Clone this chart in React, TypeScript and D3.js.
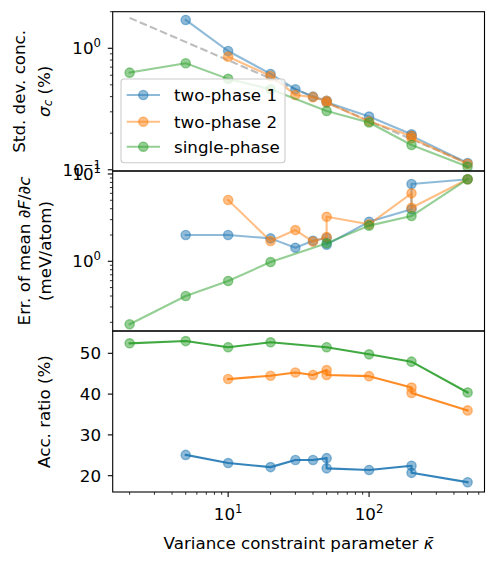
import React from 'react';
import * as d3 from 'd3';

// ---------- data ----------
const kappaTwoPhase1 = [5, 10, 20, 30, 40, 50, 50, 100, 200, 200, 500];
const kappaTwoPhase2 = [10, 20, 30, 40, 50, 50, 100, 200, 200, 500];
const kappaSingle = [2, 5, 10, 20, 50, 100, 200, 500];

const stdTwoPhase1 = [1.71, 0.95, 0.615, 0.46, 0.4, 0.37, 0.36, 0.274, 0.196, 0.19, 0.1135];
const stdTwoPhase2 = [0.853, 0.592, 0.413, 0.396, 0.369, 0.358, 0.25, 0.19, 0.182, 0.112];
const stdSingle = [0.63, 0.753, 0.56, 0.46, 0.305, 0.245, 0.16, 0.106];

const refKappa = [2, 500];
const refStd = [1.78, 0.113];

const errTwoPhase1 = [2.0, 2.0, 1.83, 1.43, 1.72, 1.85, 1.55, 2.84, 3.94, 7.68, 8.7];
const errTwoPhase2 = [5.04, 1.71, 2.28, 1.68, 1.9, 3.24, 2.65, 6.0, 4.11, 8.7];
const errSingle = [0.19, 0.4, 0.595, 0.98, 1.61, 2.56, 3.3, 8.7];

const accTwoPhase1 = [25.1, 23.1, 22.1, 23.85, 23.85, 24.3, 21.8, 21.4, 22.45, 20.7, 18.4];
const accTwoPhase2 = [43.7, 44.5, 45.3, 44.7, 45.9, 44.7, 44.4, 41.6, 40.3, 36.0];
const accSingle = [52.45, 53.0, 51.5, 52.7, 51.5, 49.75, 47.95, 40.4];

const seriesNames = ['two-phase 1', 'two-phase 2', 'single-phase'];
const seriesColors = ['#1f77b4', '#ff7f0e', '#2ca02c'];

const accTicks = [20, 30, 40, 50];

// ---------- layout ----------
const W = 495;
const H = 564;
const L = 112.7;
const R = 484.5;
const P1 = { top: 11.7, bottom: 171 };
const P2 = { top: 171, bottom: 331 };
const P3 = { top: 331, bottom: 492 };
const FONT = 'DejaVu Sans';
const FS = 16.7;
const SUP = 11.7;
const MR = 4.6;

const x = d3.scaleLog().domain([1.517, 659]).range([L, R]);
const yStd = d3.scaleLog().domain([0.0977, 2.0]).range([P1.bottom, P1.top]);
const yErr = d3.scaleLog().domain([0.159, 10.82]).range([P2.bottom, P2.top]);
const yAcc = d3.scaleLinear().domain([16.0, 55.47]).range([P3.bottom, P3.top]);

type Pt = [number, number];
const zip = (a: number[], b: number[]): Pt[] => a.map((v, i) => [v, b[i]]);

function Series({ pts, y, color, lineAlpha }: { pts: Pt[]; y: any; color: string; lineAlpha: number }) {
  const line = d3.line<Pt>().x((d) => x(d[0])).y((d) => y(d[1]));
  return (
    <g>
      <path d={line(pts) || ''} fill="none" stroke={color} strokeOpacity={lineAlpha} strokeWidth={2.1} strokeLinejoin="round" strokeLinecap="square" />
      {pts.map((d, i) => (
        <circle key={i} cx={x(d[0])} cy={y(d[1])} r={MR} fill={color} fillOpacity={0.5} stroke={color} strokeOpacity={0.5} strokeWidth={1.4} />
      ))}
    </g>
  );
}

function logTicks(domain: number[]) {
  const major: number[] = [];
  const minor: number[] = [];
  for (let e = -3; e <= 4; e++) {
    for (let m = 1; m <= 9; m++) {
      const v = m * Math.pow(10, e);
      if (v >= domain[0] * 0.999 && v <= domain[1] * 1.001) {
        if (m === 1) major.push(v);
        else minor.push(v);
      }
    }
  }
  return { major, minor };
}

function Pow10({ x: tx, y: ty, exp, anchor }: { x: number; y: number; exp: string; anchor: string }) {
  return (
    <text x={tx} y={ty} textAnchor={anchor} fontFamily={FONT} fontSize={FS} fill="#000">
      10<tspan fontSize={SUP} dy={-7}>{exp}</tspan>
    </text>
  );
}

function YLogAxis({ y }: { y: any }) {
  const { major, minor } = logTicks(y.domain());
  return (
    <g>
      {minor.map((v, i) => (
        <line key={'m' + i} x1={L} x2={L - 2.8} y1={y(v)} y2={y(v)} stroke="#000" strokeWidth={0.8} />
      ))}
      {major.map((v, i) => (
        <g key={'M' + i}>
          <line x1={L} x2={L - 4.9} y1={y(v)} y2={y(v)} stroke="#000" strokeWidth={1.1} />
          <Pow10 x={101} y={y(v) + 6} exp={String(Math.round(Math.log10(v))).replace('-', '\u2212')} anchor="end" />
        </g>
      ))}
    </g>
  );
}

function Frame({ panel }: { panel: { top: number; bottom: number } }) {
  return <rect x={L} y={panel.top} width={R - L} height={panel.bottom - panel.top} fill="none" stroke="#000" strokeWidth={1.1} />;
}

export default function App() {
  const refPts = zip(refKappa, refStd);
  const refLine = d3.line<Pt>().x((d) => x(d[0])).y((d) => yStd(d[1]));

  const xt = logTicks(x.domain());

  const stdSets = [zip(kappaTwoPhase1, stdTwoPhase1), zip(kappaTwoPhase2, stdTwoPhase2), zip(kappaSingle, stdSingle)];
  const errSets = [zip(kappaTwoPhase1, errTwoPhase1), zip(kappaTwoPhase2, errTwoPhase2), zip(kappaSingle, errSingle)];
  const accSets = [zip(kappaTwoPhase1, accTwoPhase1), zip(kappaTwoPhase2, accTwoPhase2), zip(kappaSingle, accSingle)];

  const legendRows = [95, 121.7, 146.7];

  return (
    <svg width={W} height={H} style={{ display: 'block', position: 'absolute', left: 0, top: 0 }} fontFamily={FONT}>
      <rect x={0} y={0} width={W} height={H} fill="#fff" />
      <defs>
        {[P1, P2, P3].map((p, i) => (
          <clipPath id={'clip' + i} key={i}>
            <rect x={L} y={p.top} width={R - L} height={p.bottom - p.top} />
          </clipPath>
        ))}
      </defs>

      {/* panel 1 */}
      <g clipPath="url(#clip0)">
        <path d={refLine(refPts) || ''} fill="none" stroke="#bdbdbd" strokeWidth={2.1} strokeDasharray="7.7,3.3" />
        {stdSets.map((s, i) => (
          <Series key={i} pts={s} y={yStd} color={seriesColors[i]} lineAlpha={0.5} />
        ))}
      </g>
      {/* panel 2 */}
      <g clipPath="url(#clip1)">
        {errSets.map((s, i) => (
          <Series key={i} pts={s} y={yErr} color={seriesColors[i]} lineAlpha={0.5} />
        ))}
      </g>
      {/* panel 3 */}
      <g clipPath="url(#clip2)">
        {accSets.map((s, i) => (
          <Series key={i} pts={s} y={yAcc} color={seriesColors[i]} lineAlpha={0.9} />
        ))}
      </g>

      {/* frames */}
      <Frame panel={P1} />
      <Frame panel={P2} />
      <Frame panel={P3} />

      {/* y axes */}
      <YLogAxis y={yStd} />
      <YLogAxis y={yErr} />
      {accTicks.map((v, i) => (
        <g key={i}>
          <line x1={L} x2={L - 4.9} y1={yAcc(v)} y2={yAcc(v)} stroke="#000" strokeWidth={1.1} />
          <text x={101} y={yAcc(v) + 6} textAnchor="end" fontSize={FS} fill="#000">{v}</text>
        </g>
      ))}

      {/* x axis (bottom) */}
      {xt.minor.map((v, i) => (
        <line key={'xm' + i} x1={x(v)} x2={x(v)} y1={P3.bottom} y2={P3.bottom + 2.8} stroke="#000" strokeWidth={0.8} />
      ))}
      {xt.major.filter((v) => v >= 10).map((v, i) => (
        <g key={'xM' + i}>
          <line x1={x(v)} x2={x(v)} y1={P3.bottom} y2={P3.bottom + 4.9} stroke="#000" strokeWidth={1.1} />
          <Pow10 x={x(v)} y={520} exp={String(Math.round(Math.log10(v)))} anchor="middle" />
        </g>
      ))}
      <text x={(L + R) / 2} y={549} textAnchor="middle" fontSize={FS} fill="#000">
        Variance constraint parameter <tspan fontStyle="italic">{'\u03BA\u0304'}</tspan>
      </text>

      {/* y labels */}
      <g transform={`translate(19,${(P1.top + P1.bottom) / 2}) rotate(-90)`}>
        <text textAnchor="middle" dominantBaseline="central" fontSize={FS} fill="#000">Std. dev. conc.</text>
      </g>
      <g transform={`translate(44,${(P1.top + P1.bottom) / 2}) rotate(-90)`}>
        <text textAnchor="middle" dominantBaseline="central" fontSize={FS} fill="#000">
          <tspan fontStyle="italic">σ</tspan>
          <tspan fontStyle="italic" fontSize={SUP} dy={3.5}>c</tspan>
          <tspan dy={-3.5}> (%)</tspan>
        </text>
      </g>
      <g transform={`translate(23.5,${(P2.top + P2.bottom) / 2}) rotate(-90)`}>
        <text textAnchor="middle" dominantBaseline="central" fontSize={FS} fill="#000">
          Err. of mean ∂<tspan fontStyle="italic">F</tspan>/∂<tspan fontStyle="italic">c</tspan>
        </text>
      </g>
      <g transform={`translate(45,${(P2.top + P2.bottom) / 2}) rotate(-90)`}>
        <text textAnchor="middle" dominantBaseline="central" fontSize={FS} fill="#000">(meV/atom)</text>
      </g>
      <g transform={`translate(44,${(P3.top + P3.bottom) / 2}) rotate(-90)`}>
        <text textAnchor="middle" dominantBaseline="central" fontSize={FS} fill="#000">Acc. ratio (%)</text>
      </g>

      {/* legend */}
      <g>
        <rect x={121} y={79} width={164} height={83.7} rx={3} ry={3} fill="#fff" fillOpacity={0.8} stroke="#cccccc" strokeWidth={1.1} />
        {seriesNames.map((name, i) => (
          <g key={i}>
            <line x1={126.7} x2={160} y1={legendRows[i]} y2={legendRows[i]} stroke={seriesColors[i]} strokeOpacity={0.5} strokeWidth={2.1} />
            <circle cx={143.3} cy={legendRows[i]} r={MR} fill={seriesColors[i]} fillOpacity={0.5} stroke={seriesColors[i]} strokeOpacity={0.5} strokeWidth={1.4} />
            <text x={174} y={legendRows[i] + 6} fontSize={FS} fill="#000">{name}</text>
          </g>
        ))}
      </g>
    </svg>
  );
}
